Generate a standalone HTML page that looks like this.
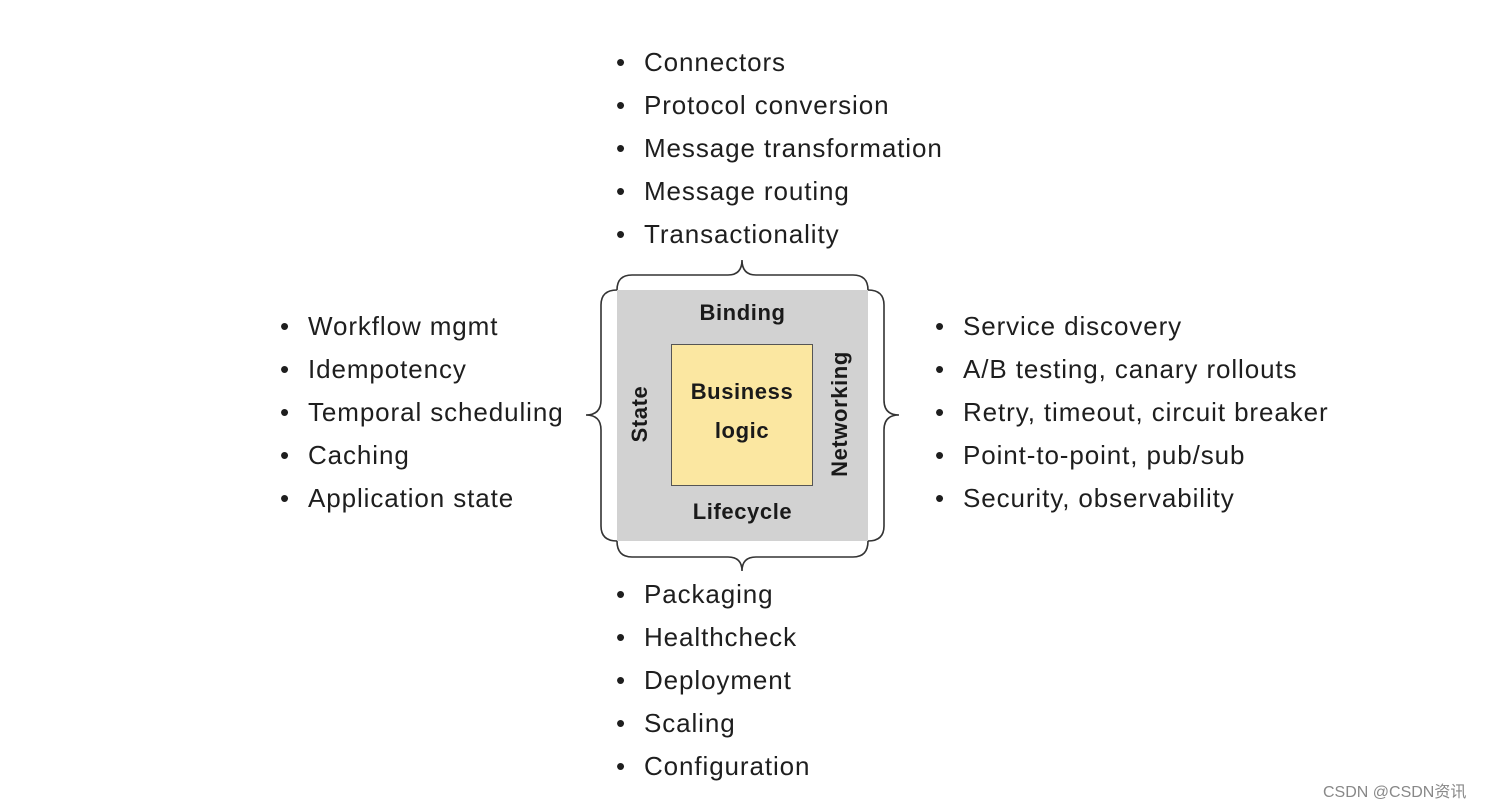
<!DOCTYPE html>
<html><head><meta charset="utf-8"><style>
html,body{margin:0;padding:0;background:#fff;}
body{width:1500px;height:807px;position:relative;overflow:hidden;font-family:"Liberation Sans","DejaVu Sans",sans-serif;color:#1e1e1e;}
.l{position:absolute;font-size:26px;line-height:43px;margin:0;padding:0;list-style:none;letter-spacing:0.9px;}
.l li{position:relative;white-space:nowrap;}
.l li:before{content:"•";position:absolute;left:-28px;}
.t{position:absolute;font-weight:bold;font-size:22px;color:#1a1a1a;letter-spacing:0.6px;}
</style></head><body>
<ul class="l" style="left:644px;top:41px">
<li>Connectors</li><li>Protocol conversion</li><li>Message transformation</li><li>Message routing</li><li>Transactionality</li></ul>
<ul class="l" style="left:308px;top:305px">
<li>Workflow mgmt</li><li>Idempotency</li><li>Temporal scheduling</li><li>Caching</li><li>Application state</li></ul>
<ul class="l" style="left:963px;top:305px">
<li>Service discovery</li><li>A/B testing, canary rollouts</li><li>Retry, timeout, circuit breaker</li><li>Point-to-point, pub/sub</li><li>Security, observability</li></ul>
<ul class="l" style="left:644px;top:573px">
<li>Packaging</li><li>Healthcheck</li><li>Deployment</li><li>Scaling</li><li>Configuration</li></ul>

<div style="position:absolute;left:617px;top:290px;width:251px;height:251px;background:#d2d2d2"></div>
<div style="position:absolute;left:671px;top:344px;width:140px;height:140px;background:#fbe7a1;border:1px solid #555"></div>
<div class="t" style="left:617px;width:251px;top:300px;text-align:center">Binding</div>
<div class="t" style="left:617px;width:251px;top:499px;text-align:center">Lifecycle</div>
<div class="t" style="left:672px;width:140px;top:372px;text-align:center;line-height:39px">Business<br>logic</div>
<div class="t" style="left:590px;top:401px;width:100px;text-align:center;transform:rotate(-90deg)">State</div>
<div class="t" style="left:770px;top:401px;width:140px;text-align:center;transform:rotate(-90deg)">Networking</div>

<svg width="1500" height="807" style="position:absolute;left:0;top:0" fill="none" stroke="#333" stroke-width="1.6">
<path d="M617,290 Q617,275 632,275 L728,275 Q742,275 742,260 Q742,275 756,275 L853,275 Q868,275 868,290"/>
<path d="M617,541 Q617,557 632,557 L728,557 Q742,557 742,571 Q742,557 756,557 L853,557 Q868,557 868,541"/>
<path d="M617,290 Q601,290 601,305 L601,400 Q601,415 586,415 Q601,415 601,430 L601,526 Q601,541 617,541"/>
<path d="M868,290 Q884,290 884,305 L884,400 Q884,415 899,415 Q884,415 884,430 L884,526 Q884,541 868,541"/>
</svg>
<div style="position:absolute;left:1323px;top:778px;font-size:16px;color:#888;font-family:'Liberation Sans','Noto Sans CJK SC',sans-serif">CSDN @CSDN资讯</div>
</body></html>
